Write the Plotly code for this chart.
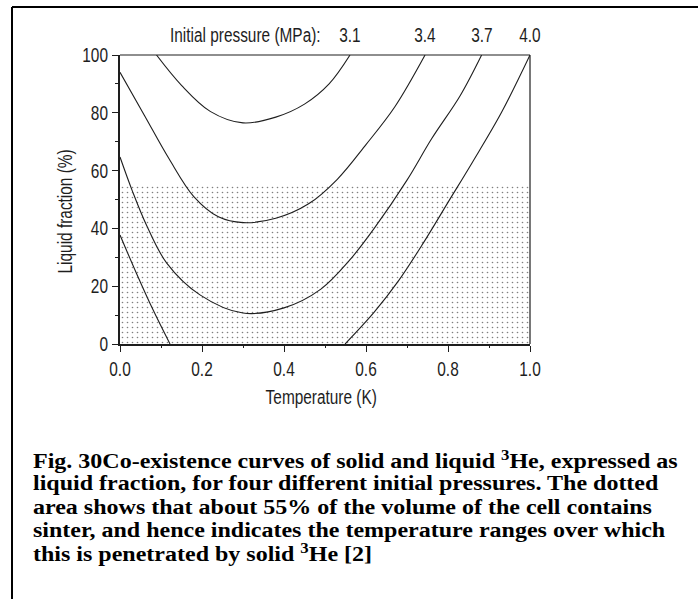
import plotly.graph_objects as go

# Canvas and plot-area geometry (pixels)
W, H = 698, 599
PX_L, PX_R = 120, 530
PX_T, PX_B = 55, 344

def px_x(px):
    return (px - PX_L) / (PX_R - PX_L)

def px_y(py):
    return (PX_B - py) / (PX_B - PX_T)

# Liquid fraction (%) vs temperature (K) for each initial pressure
pressures = ["3.1", "3.4", "3.7", "4.0"]

temp_31 = [0.089, 0.15, 0.22, 0.30, 0.38, 0.45, 0.51, 0.561]
frac_31 = [100, 89.5, 80.5, 76.5, 78.5, 83, 90, 100]

temp_34 = [0.0, 0.06, 0.12, 0.18, 0.24, 0.30, 0.38, 0.46, 0.53, 0.60, 0.67, 0.744]
frac_34 = [94, 79, 64, 51, 44, 42, 43.5, 48.5, 57, 69, 82, 100]

temp_37 = [0.0, 0.03, 0.065, 0.114, 0.195, 0.30, 0.40, 0.49, 0.56, 0.62, 0.70, 0.76, 0.83, 0.882]
frac_37 = [64.7, 53, 41, 28, 17, 10.7, 12.5, 19, 29, 40, 56.7, 71, 86, 100]

temp_40_low = [0.0, 0.04, 0.08, 0.122]
frac_40_low = [37.7, 24.5, 12, 0]
temp_40_high = [0.549, 0.62, 0.68, 0.74, 0.80, 0.86, 0.93, 1.0]
frac_40_high = [0, 11, 22, 35, 49, 63, 80, 100]

# Sinter volume fraction (dotted region)
sinter_pct = 55
sinter_temp = [0.0, 1.0]

x_ticks = [0.0, 0.2, 0.4, 0.6, 0.8, 1.0]
y_ticks = [0, 20, 40, 60, 80, 100]

caption_lines = [
    "Fig. 30Co-existence curves of solid and liquid <sup>3</sup>He, expressed as",
    "liquid fraction, for four different initial pressures. The dotted",
    "area shows that about 55% of the volume of the cell contains",
    "sinter, and hence indicates the temperature ranges over which",
    "this is penetrated by solid <sup>3</sup>He [2]",
]

SANS = "Liberation Sans, Arial, sans-serif"
SERIF = "Liberation Serif, Times New Roman, serif"
INK = "#1e1e1e"
sans_font = dict(family=SANS, size=20, color=INK)

fig = go.Figure()

# Dotted sinter area
fig.add_trace(go.Scatter(
    x=sinter_temp, y=[sinter_pct] * len(sinter_temp),
    mode="lines", line=dict(width=0), fill="tozeroy",
    fillpattern=dict(shape=".", size=5, solidity=0.08,
                     fgcolor="black", bgcolor="white"),
    fillcolor="white", hoverinfo="skip", showlegend=False,
))

curve_style = dict(mode="lines", line=dict(color=INK, width=1.1, shape="spline"),
                   showlegend=False, hoverinfo="skip")
fig.add_trace(go.Scatter(x=temp_31, y=frac_31, **curve_style))
fig.add_trace(go.Scatter(x=temp_34, y=frac_34, **curve_style))
fig.add_trace(go.Scatter(x=temp_37, y=frac_37, **curve_style))
fig.add_trace(go.Scatter(x=temp_40_low + [None] + temp_40_high,
                         y=frac_40_low + [None] + frac_40_high,
                         connectgaps=False, **curve_style))

axis_common = dict(
    showgrid=False, zeroline=False, showline=True, linecolor=INK, linewidth=2,
    ticks="outside", ticklen=6, tickwidth=1.3, tickcolor=INK,
    tickfont=sans_font,
)
fig.update_xaxes(range=[0, 1], tickvals=x_ticks, tickformat=".1f",
                 minor=dict(dtick=0.1, ticks="outside", ticklen=2, tickwidth=1.3,
                            tickcolor=INK),
                 **axis_common)
fig.update_yaxes(range=[0, 100], tickvals=y_ticks,
                 minor=dict(dtick=10, ticks="outside", ticklen=3, tickwidth=1.3,
                            tickcolor=INK),
                 **axis_common)

shapes = [
    # top and right edges of the plot frame
    dict(type="line", xref="paper", yref="paper", x0=0, x1=1, y0=1, y1=1,
         line=dict(color=INK, width=1.2)),
    dict(type="line", xref="paper", yref="paper", x0=1, x1=1, y0=0, y1=1,
         line=dict(color=INK, width=1.2)),
    # outer figure border
    dict(type="line", xref="paper", yref="paper", x0=px_x(12), x1=px_x(12),
         y0=px_y(7), y1=px_y(610), line=dict(color="black", width=2)),
    dict(type="line", xref="paper", yref="paper", x0=px_x(12), x1=px_x(710),
         y0=px_y(7), y1=px_y(7), line=dict(color="black", width=2)),
]

annotations = [
    dict(text="Initial pressure (MPa):", xref="paper", yref="paper",
         x=px_x(323), y=px_y(35), xanchor="right", yanchor="middle", align="right",
         showarrow=False, font=sans_font),
    dict(text="Liquid fraction (%)", xref="paper", yref="paper",
         x=px_x(65), y=px_y(212), xanchor="center", yanchor="middle", textangle=-90,
         showarrow=False, font=sans_font),
    dict(text="Temperature (K)", xref="paper", yref="paper",
         x=px_x(321), y=px_y(397), xanchor="center", yanchor="middle",
         showarrow=False, font=sans_font),
]

# Pressure labels above where each curve meets 100 %
label_x = [temp_31[-1], temp_34[-1], temp_37[-1], temp_40_high[-1]]
for p, lx in zip(pressures, label_x):
    annotations.append(dict(text=p, xref="x", yref="paper", x=lx, y=px_y(35),
                            xanchor="center", yanchor="middle", showarrow=False,
                            font=sans_font))

caption_y = [460, 483, 507, 530, 553]
for line, cy in zip(caption_lines, caption_y):
    annotations.append(dict(text=line, xref="paper", yref="paper",
                            x=px_x(31), y=px_y(cy), xanchor="left", yanchor="middle",
                            align="left", showarrow=False,
                            font=dict(family=SERIF, size=20, color="black", weight="bold")))

fig.update_layout(
    width=W, height=H,
    margin=dict(l=PX_L, r=W - PX_R, t=PX_T, b=H - PX_B),
    paper_bgcolor="white", plot_bgcolor="white",
    shapes=shapes, annotations=annotations,
    showlegend=False,
)

# Narrow the sans labels (tall condensed lettering) and widen the bold caption
# by adjusting each SVG text's advance length.
post_js = """
var gd = document.getElementById('{plot_id}');
gd.querySelectorAll('text').forEach(function (t) {
    var ff = t.style.fontFamily || '';
    var f = null;
    if (ff.indexOf('Liberation Sans') >= 0) { f = 0.77; }
    else if (ff.indexOf('Liberation Serif') >= 0) { f = 1.2; }
    if (f === null) { return; }
    var w = t.getComputedTextLength();
    if (w > 0) {
        t.setAttribute('textLength', (w * f).toFixed(2));
        t.setAttribute('lengthAdjust', 'spacingAndGlyphs');
    }
});
"""

fig.write_html("out.html", post_script=post_js)
